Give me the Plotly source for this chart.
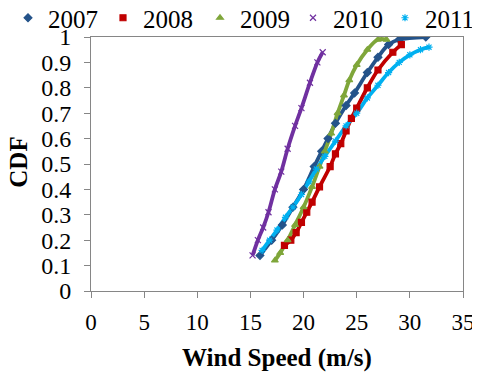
import plotly.graph_objects as go

names = ["2007", "2008", "2009", "2010", "2011"]

x2007 = [15.9, 17.0, 18.0, 19.0, 20.0, 21.0, 21.7, 22.3, 23.0, 24.0, 24.8, 26.0, 27.0, 28.0, 29.0, 31.5]
y2007 = [0.14, 0.20, 0.26, 0.33, 0.40, 0.49, 0.55, 0.60, 0.66, 0.73, 0.78, 0.86, 0.92, 0.97, 0.99, 1.00]

x2008 = [18.2, 18.8, 19.3, 19.8, 20.3, 20.8, 21.5, 22.5, 23.0, 23.5, 24.0, 24.5, 25.0, 26.0, 27.0, 28.4, 29.2]
y2008 = [0.18, 0.20, 0.23, 0.27, 0.31, 0.35, 0.41, 0.49, 0.54, 0.58, 0.63, 0.68, 0.72, 0.80, 0.87, 0.94, 0.97]

x2009 = [17.3, 17.8, 18.5, 19.2, 20.0, 20.8, 21.5, 22.0, 22.6, 23.2, 23.8, 24.3, 25.0, 26.0, 27.0, 27.8]
y2009 = [0.12, 0.15, 0.20, 0.26, 0.33, 0.41, 0.49, 0.55, 0.62, 0.70, 0.77, 0.83, 0.89, 0.95, 0.99, 0.99]

x2010 = [15.2, 15.7, 16.2, 16.7, 17.3, 17.9, 18.5, 19.2, 19.8, 20.6, 21.3, 21.8]
y2010 = [0.14, 0.20, 0.25, 0.31, 0.40, 0.47, 0.56, 0.65, 0.72, 0.82, 0.90, 0.94]

x2011 = [16.1, 16.8, 17.5, 18.3, 19.0, 19.8, 20.5, 21.2, 22.0, 23.0, 24.0, 25.0, 26.0, 27.0, 28.0, 29.0, 30.0, 31.0, 31.8]
y2011 = [0.16, 0.20, 0.24, 0.29, 0.33, 0.38, 0.43, 0.48, 0.53, 0.59, 0.65, 0.70, 0.76, 0.81, 0.86, 0.90, 0.93, 0.95, 0.96]

xs = [x2007, x2008, x2009, x2010, x2011]
ys = [y2007, y2008, y2009, y2010, y2011]
colors = ["#24538A", "#C00000", "#7FA63A", "#7030A0", "#00B0F0"]
symbols = ["diamond", "square", "triangle-up", "x-thin", "asterisk"]

x_ticks = [0, 5, 10, 15, 20, 25, 30, 35]
y_ticks = [0, 0.1, 0.2, 0.3, 0.4, 0.5, 0.6, 0.7, 0.8, 0.9, 1]
y_labels = ["0", "0.1", "0.2", "0.3", "0.4", "0.5", "0.6", "0.7", "0.8", "0.9", "1"]

font = "Liberation Serif, Times New Roman, serif"

# page is offset by the 8px body margin; figure sized to fit the window
W, H = 472, 364
ML, MR, MT, MB = 83, 17, 29, 81

fig = go.Figure()
for n, x, y, c, s in zip(names, xs, ys, colors, symbols):
    fig.add_trace(go.Scatter(
        x=x, y=y, name=n, mode="lines", showlegend=False,
        line=dict(color=c, width=3.8, shape="spline", smoothing=1.0),
    ))
legend_ids = ["legend", "legend2", "legend3", "legend4", "legend5"]
legend_left = [0, 95, 192, 285, 377]
for n, x, y, c, s, lid in zip(names, xs, ys, colors, symbols, legend_ids):
    fig.add_trace(go.Scatter(
        x=x, y=y, name=n, mode="markers", showlegend=True, legend=lid,
        marker=dict(symbol=s, size=6, color=c, line=dict(color=c, width=1.2)),
    ))

layout_legends = {}
for lid, lx in zip(legend_ids, legend_left):
    layout_legends[lid] = dict(
        orientation="h", xref="container", yref="container",
        x=lx / W, xanchor="left", y=1 - 10 / H, yanchor="middle",
        font=dict(size=25, family=font, color="black"), itemwidth=30,
        bgcolor="rgba(0,0,0,0)")

plot_w = W - ML - MR
fig.update_layout(
    width=W, height=H,
    margin=dict(l=ML, r=MR, t=MT, b=MB, autoexpand=False),
    plot_bgcolor="white", paper_bgcolor="white",
    font=dict(family=font, color="black", size=23),
    showlegend=True,
    xaxis=dict(range=[0, 35], tickvals=x_ticks, showgrid=False, zeroline=False,
               showline=True, linecolor="#868686", linewidth=1, mirror=True,
               ticks="outside", ticklen=6, tickcolor="#868686", automargin=False,
               ticklabelstandoff=4,
               tickfont=dict(size=23, family=font, color="black"),
               title=dict(text="<b>Wind Speed (m/s)</b>", font=dict(size=25, family=font, color="black"), standoff=18)),
    yaxis=dict(range=[0, 1], tickvals=y_ticks, ticktext=y_labels, showgrid=False, zeroline=False,
               showline=True, linecolor="#868686", linewidth=1, mirror=True,
               ticks="outside", ticklen=6, tickcolor="#868686", automargin=False,
               ticklabelstandoff=8,
               tickfont=dict(size=24, family=font, color="black")),
    annotations=[dict(text="<b>CDF</b>", textangle=-90, xref="paper", yref="paper",
                      x=(11 - ML) / plot_w, y=0.505, xanchor="center", yanchor="middle",
                      showarrow=False, font=dict(size=25, family=font, color="black"))],
    **layout_legends,
)

fig.write_html("out.html")
